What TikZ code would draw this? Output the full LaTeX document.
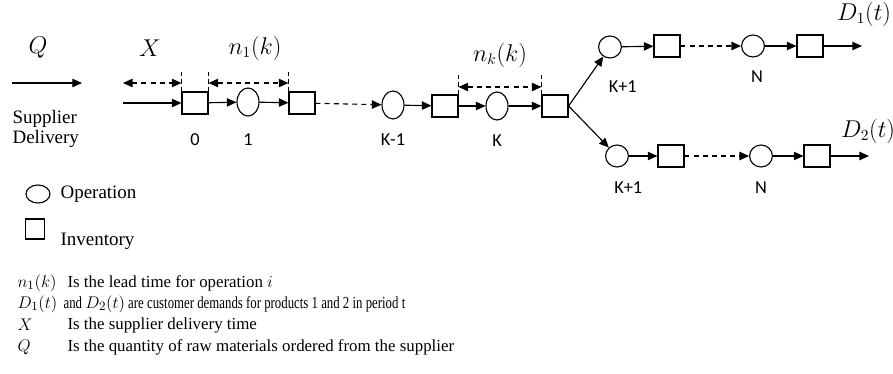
\documentclass[tikz,border=0pt]{standalone}
\usepackage{amsmath,amssymb}
\usepackage{fontspec}
\setmainfont{Liberation Serif}
\newfontfamily\calib{Carlito}
\newfontfamily\narrowserif[FakeStretch=0.76]{Liberation Serif}
\usepackage{tikz}
\usetikzlibrary{positioning,calc,arrows.meta,shapes.geometric}
\usepackage{xcolor}

\begin{document}
\begin{tikzpicture}[x=0.025cm,y=-0.025cm,line width=0.8pt,
    op/.style={ellipse,draw,minimum width=0.55cm,minimum height=0.7cm,inner sep=0pt},
    opr/.style={ellipse,draw,minimum width=0.57cm,minimum height=0.55cm,inner sep=0pt},
    inv/.style={rectangle,draw,minimum width=0.65cm,minimum height=0.55cm,inner sep=0pt},
    lab/.style={font=\calib\fontsize{13}{15}\selectfont,inner sep=1pt},
    mlab/.style={font=\fontsize{16}{18}\selectfont,inner sep=1pt},
    txt/.style={font=\fontsize{13.5}{16}\selectfont,inner sep=0pt,anchor=west},
    note/.style={font=\fontsize{12}{14}\selectfont,inner sep=0pt,anchor=west},
    mnote/.style={font=\fontsize{13}{15}\selectfont,inner sep=0pt,anchor=west},
    flow/.style={-{Triangle[length=0.24cm,width=0.21cm]}},
    dimarr/.style={{Triangle[length=0.24cm,width=0.21cm]}-{Triangle[length=0.24cm,width=0.21cm]},dash pattern=on 3.5pt off 3pt},
    tick/.style={dash pattern=on 3pt off 2.5pt,line width=0.6pt}]

\useasboundingbox (0,0) rectangle (893,374);

% supplier side
\coordinate (qa) at (12,83);
\coordinate (qb) at (82,83);
\node[mlab] (q) at (38,48) {$Q$};
\draw[flow] (qa) -- (qb);
\node[txt,align=left] (sup) at (12,129) {Supplier\\[-2pt]Delivery};

% main chain
\node[inv] (b0) at (195,103) {};
\node[below=0.42cm of b0,lab] {0};
\node[op] (c1) at (248,102) {};
\node[below=0.38cm of c1,lab] {1};
\node[inv] (b2) at (302,103) {};

\node[op] (ckm) at (393,105) {};
\node[below=0.3cm of ckm,lab] {K-1};
\node[inv] (bkm) at (445,106) {};
\node[op] (ck) at (497,106) {};
\node[below=0.3cm of ck,lab] {K};
\node[inv] (bk) at (555,106) {};

\coordinate (in) at (123,103);
\draw[flow] (in) -- (b0);
\draw[flow] (b0) -- (c1);
\draw[flow] (c1) -- (b2);
\draw[flow,dash pattern=on 3.5pt off 3pt] (b2) -- (ckm);
\draw[flow] (ckm) -- (bkm);
\draw[flow] (bkm) -- (ck);
\draw[flow] (ck) -- (bk);

% lead time marks
\coordinate (xa) at (123,83);
\node[mlab] (x) at (150,48) {$X$};
\node[mlab] (n1) at (255,48) {$n_1(k)$};
\draw[tick] (b0.north west) -- ++(0,-21);
\draw[tick] (b0.north east) -- ++(0,-21);
\draw[tick] (b2.north west) -- ++(0,-21);
\draw[dimarr] (xa) -- (xa -| b0.west);
\draw[dimarr] (xa -| b0.east) -- (xa -| b2.west);

\coordinate (nka) at (500,87);
\node[mlab] (nk) at (500,55) {$n_k(k)$};
\draw[tick] (bkm.north east) -- ++(0,-23);
\draw[tick] (bk.north west) -- ++(0,-23);
\draw[dimarr] (nka -| bkm.east) -- (nka -| bk.west);

% product 1
\node[opr] (u1) at (610,47) {};
\node[below=0.5cm of u1,xshift=0.32cm,lab] {K+1};
\node[inv] (ub1) at (667,46) {};
\node[opr] (un) at (753,46) {};
\node[below=0.28cm of un,xshift=0.1cm,lab] {N};
\node[inv] (ub2) at (810,46) {};
\coordinate (d1) at (862,46);
\node[mlab] (d1t) at (864,14) {$D_1(t)$};

\draw[flow] (bk.east) -- (u1);
\draw[flow] (u1) -- (ub1);
\draw[flow,dash pattern=on 3.5pt off 3pt] (ub1) -- (un);
\draw[flow] (un) -- (ub2);
\draw[flow] (ub2) -- (d1);

% product 2
\node[opr] (l1) at (617,156) {};
\node[below=0.3cm of l1,xshift=0.28cm,lab] {K+1};
\node[inv] (lb1) at (671,156) {};
\node[opr] (ln) at (761,156) {};
\node[below=0.3cm of ln,lab] {N};
\node[inv] (lb2) at (817,156) {};
\coordinate (d2) at (869,156);
\node[mlab] (d2t) at (868,131) {$D_2(t)$};

\draw[flow] (bk.east) -- (l1);
\draw[flow] (l1) -- (lb1);
\draw[flow,dash pattern=on 3.5pt off 3pt] (lb1) -- (ln);
\draw[flow] (ln) -- (lb2);
\draw[flow] (lb2) -- (d2);

% key
\node[ellipse,draw,minimum width=0.6cm,minimum height=0.45cm,inner sep=0pt] (kop) at (38,194) {};
\node[txt] (kopt) at (60,194) {Operation};
\node[rectangle,draw,minimum width=0.48cm,minimum height=0.5cm,inner sep=0pt] (kinv) at (35,229) {};
\node[txt] (kinvt) at (60,241) {Inventory};

% notes
\node[mnote] (m1) at (17,283) {$n_1(k)$};
\node[note] (t1) at (67,283) {Is the lead time for operation {\fontsize{13}{15}\selectfont$i$}};
\node[mnote] (m2) at (17,304) {$D_1(t)$};
\node[note] (t2) at (63,304) {\narrowserif and {\fontsize{13}{15}\selectfont$D_2(t)$} are customer demands for products 1 and 2 in period t};
\node[mnote] (m3) at (17,325) {$X$};
\node[note] (t3) at (67,325) {Is the supplier delivery time};
\node[mnote] (m4) at (17,347) {$Q$};
\node[note] (t4) at (67,347) {Is the quantity of raw materials ordered from the supplier};

\end{tikzpicture}
\end{document}
